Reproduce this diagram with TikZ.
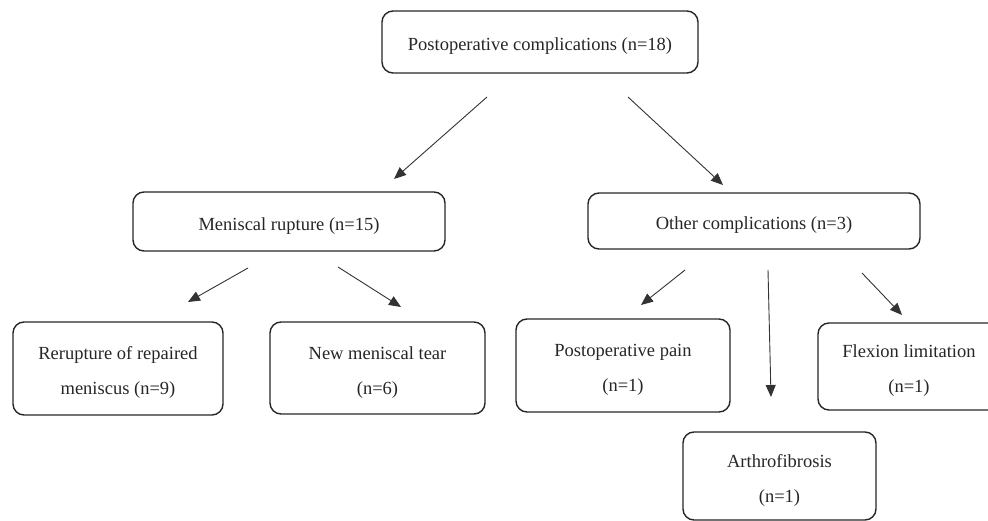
\documentclass[tikz,border=0pt]{standalone}
\usepackage{fontspec}
\setmainfont{Liberation Serif}
\usetikzlibrary{arrows.meta}
\begin{document}
\begin{tikzpicture}[x=1pt,y=-1pt,
  box/.style={draw=black!85, line width=1.4pt, rounded corners=11pt, align=center,
    inner sep=0pt, text=black!85, font=\fontsize{18.5}{35}\selectfont},
  oneline/.style={box, text height=21pt},
  twoline/.style={box, text height=56pt},
  arr/.style={draw=black!80, line width=0.9pt, -{Triangle[length=12pt,width=10pt]}}]
\useasboundingbox (0,0) rectangle (988,521);
\node[oneline, minimum width=316pt, minimum height=62pt] (top) at (540,42) {Postoperative complications (n=18)};
\node[oneline, minimum width=312pt, minimum height=59pt] (mr) at (289,221.5) {Meniscal rupture (n=15)};
\node[oneline, minimum width=332pt, minimum height=56pt] (oc) at (754,221) {Other complications (n=3)};
\node[twoline, minimum width=210pt, minimum height=93pt] (rr) at (118,368.5) {Rerupture of repaired\\meniscus (n=9)};
\node[twoline, minimum width=215pt, minimum height=92pt] (nm) at (377.5,368) {New meniscal tear\\(n=6)};
\node[twoline, minimum width=214pt, minimum height=93pt] (pp) at (623,365.5) {Postoperative pain\\(n=1)};
\node[twoline, minimum width=182pt, minimum height=87pt] (fl) at (909,366.5) {Flexion limitation\\(n=1)};
\node[twoline, minimum width=193pt, minimum height=88pt] (ar) at (779.5,476) {Arthrofibrosis\\(n=1)};
\coordinate (a1s) at (487,97);  \coordinate (a1e) at (394,179);
\coordinate (a2s) at (628,97);  \coordinate (a2e) at (723,185);
\coordinate (a3s) at (248,268); \coordinate (a3e) at (188,302);
\coordinate (a4s) at (338,267); \coordinate (a4e) at (401,307);
\coordinate (a5s) at (685,270); \coordinate (a5e) at (641,305);
\coordinate (a6s) at (768,270); \coordinate (a6e) at (771,397);
\coordinate (a7s) at (862,273); \coordinate (a7e) at (902,315);
\draw[arr] (a1s) -- (a1e);
\draw[arr] (a2s) -- (a2e);
\draw[arr] (a3s) -- (a3e);
\draw[arr] (a4s) -- (a4e);
\draw[arr] (a5s) -- (a5e);
\draw[arr] (a6s) -- (a6e);
\draw[arr] (a7s) -- (a7e);
\end{tikzpicture}
\end{document}
